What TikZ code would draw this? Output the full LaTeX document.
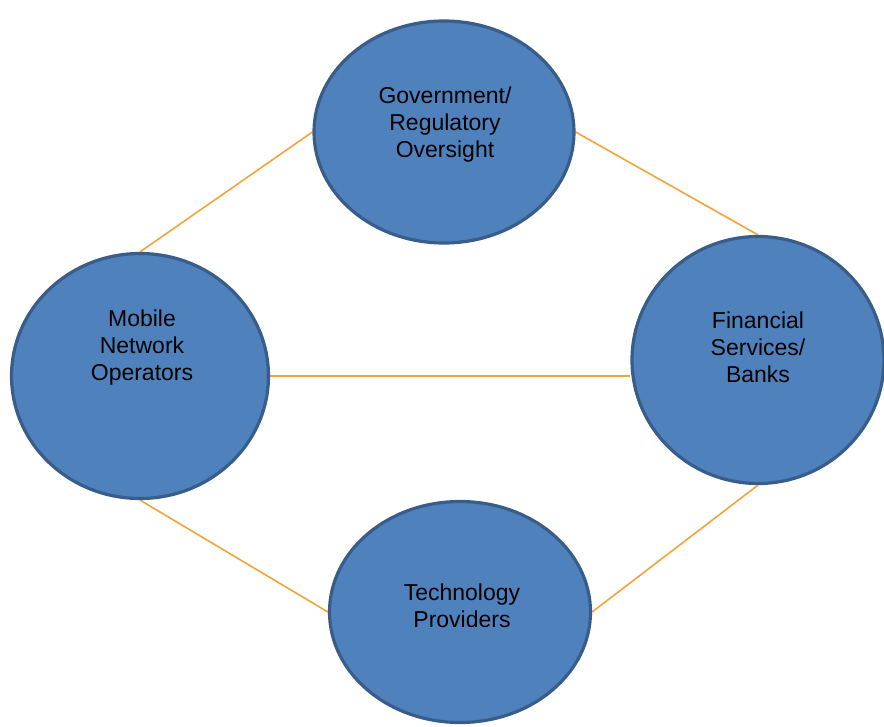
\documentclass[tikz,border=0pt]{standalone}
\usepackage{fontspec}
\setmainfont{Liberation Sans}
\usetikzlibrary{shapes.geometric,backgrounds}
\definecolor{fillblue}{HTML}{4F81BD}
\definecolor{edgeblue}{HTML}{385D8A}
\definecolor{linkorange}{HTML}{F4A33A}
\tikzset{
  party/.style={ellipse, draw=edgeblue, fill=fillblue, line width=3.2pt, inner sep=0pt},
  lbl/.style={align=center, font=\fontsize{23}{27}\selectfont, text=black},
  link/.style={draw=linkorange, line width=1.6pt}
}
\begin{document}
\begin{tikzpicture}[x=1pt,y=-1pt]
\useasboundingbox (0,0) rectangle (884,726);
\node[party, minimum width=260pt, minimum height=222pt] (gov) at (444,132) {};
\node[party, minimum width=257pt, minimum height=245pt] (mno) at (140,376) {};
\node[party, minimum width=252pt, minimum height=247pt] (fin) at (758,360) {};
\node[party, minimum width=261pt, minimum height=221pt] (tech) at (460,612) {};
\node[lbl] (govT) at (445,125) {Government/\\Regulatory\\Oversight};
\node[lbl] (mnoT) at (142,348) {Mobile\\Network\\Operators};
\node[lbl] (finT) at (758,347) {Financial\\Services/\\Banks};
\node[lbl] (techT) at (462,606) {Technology\\Providers};
\begin{pgfonlayer}{background}
\draw[link] (mno.north) -- (gov.west);
\draw[link] (gov.east) -- (fin.north);
\draw[link] (mno.east) -- (mno.east -| fin.west);
\draw[link] (mno.south) -- (tech.west);
\draw[link] (tech.east) -- (fin.south);
\end{pgfonlayer}
\end{tikzpicture}
\end{document}
